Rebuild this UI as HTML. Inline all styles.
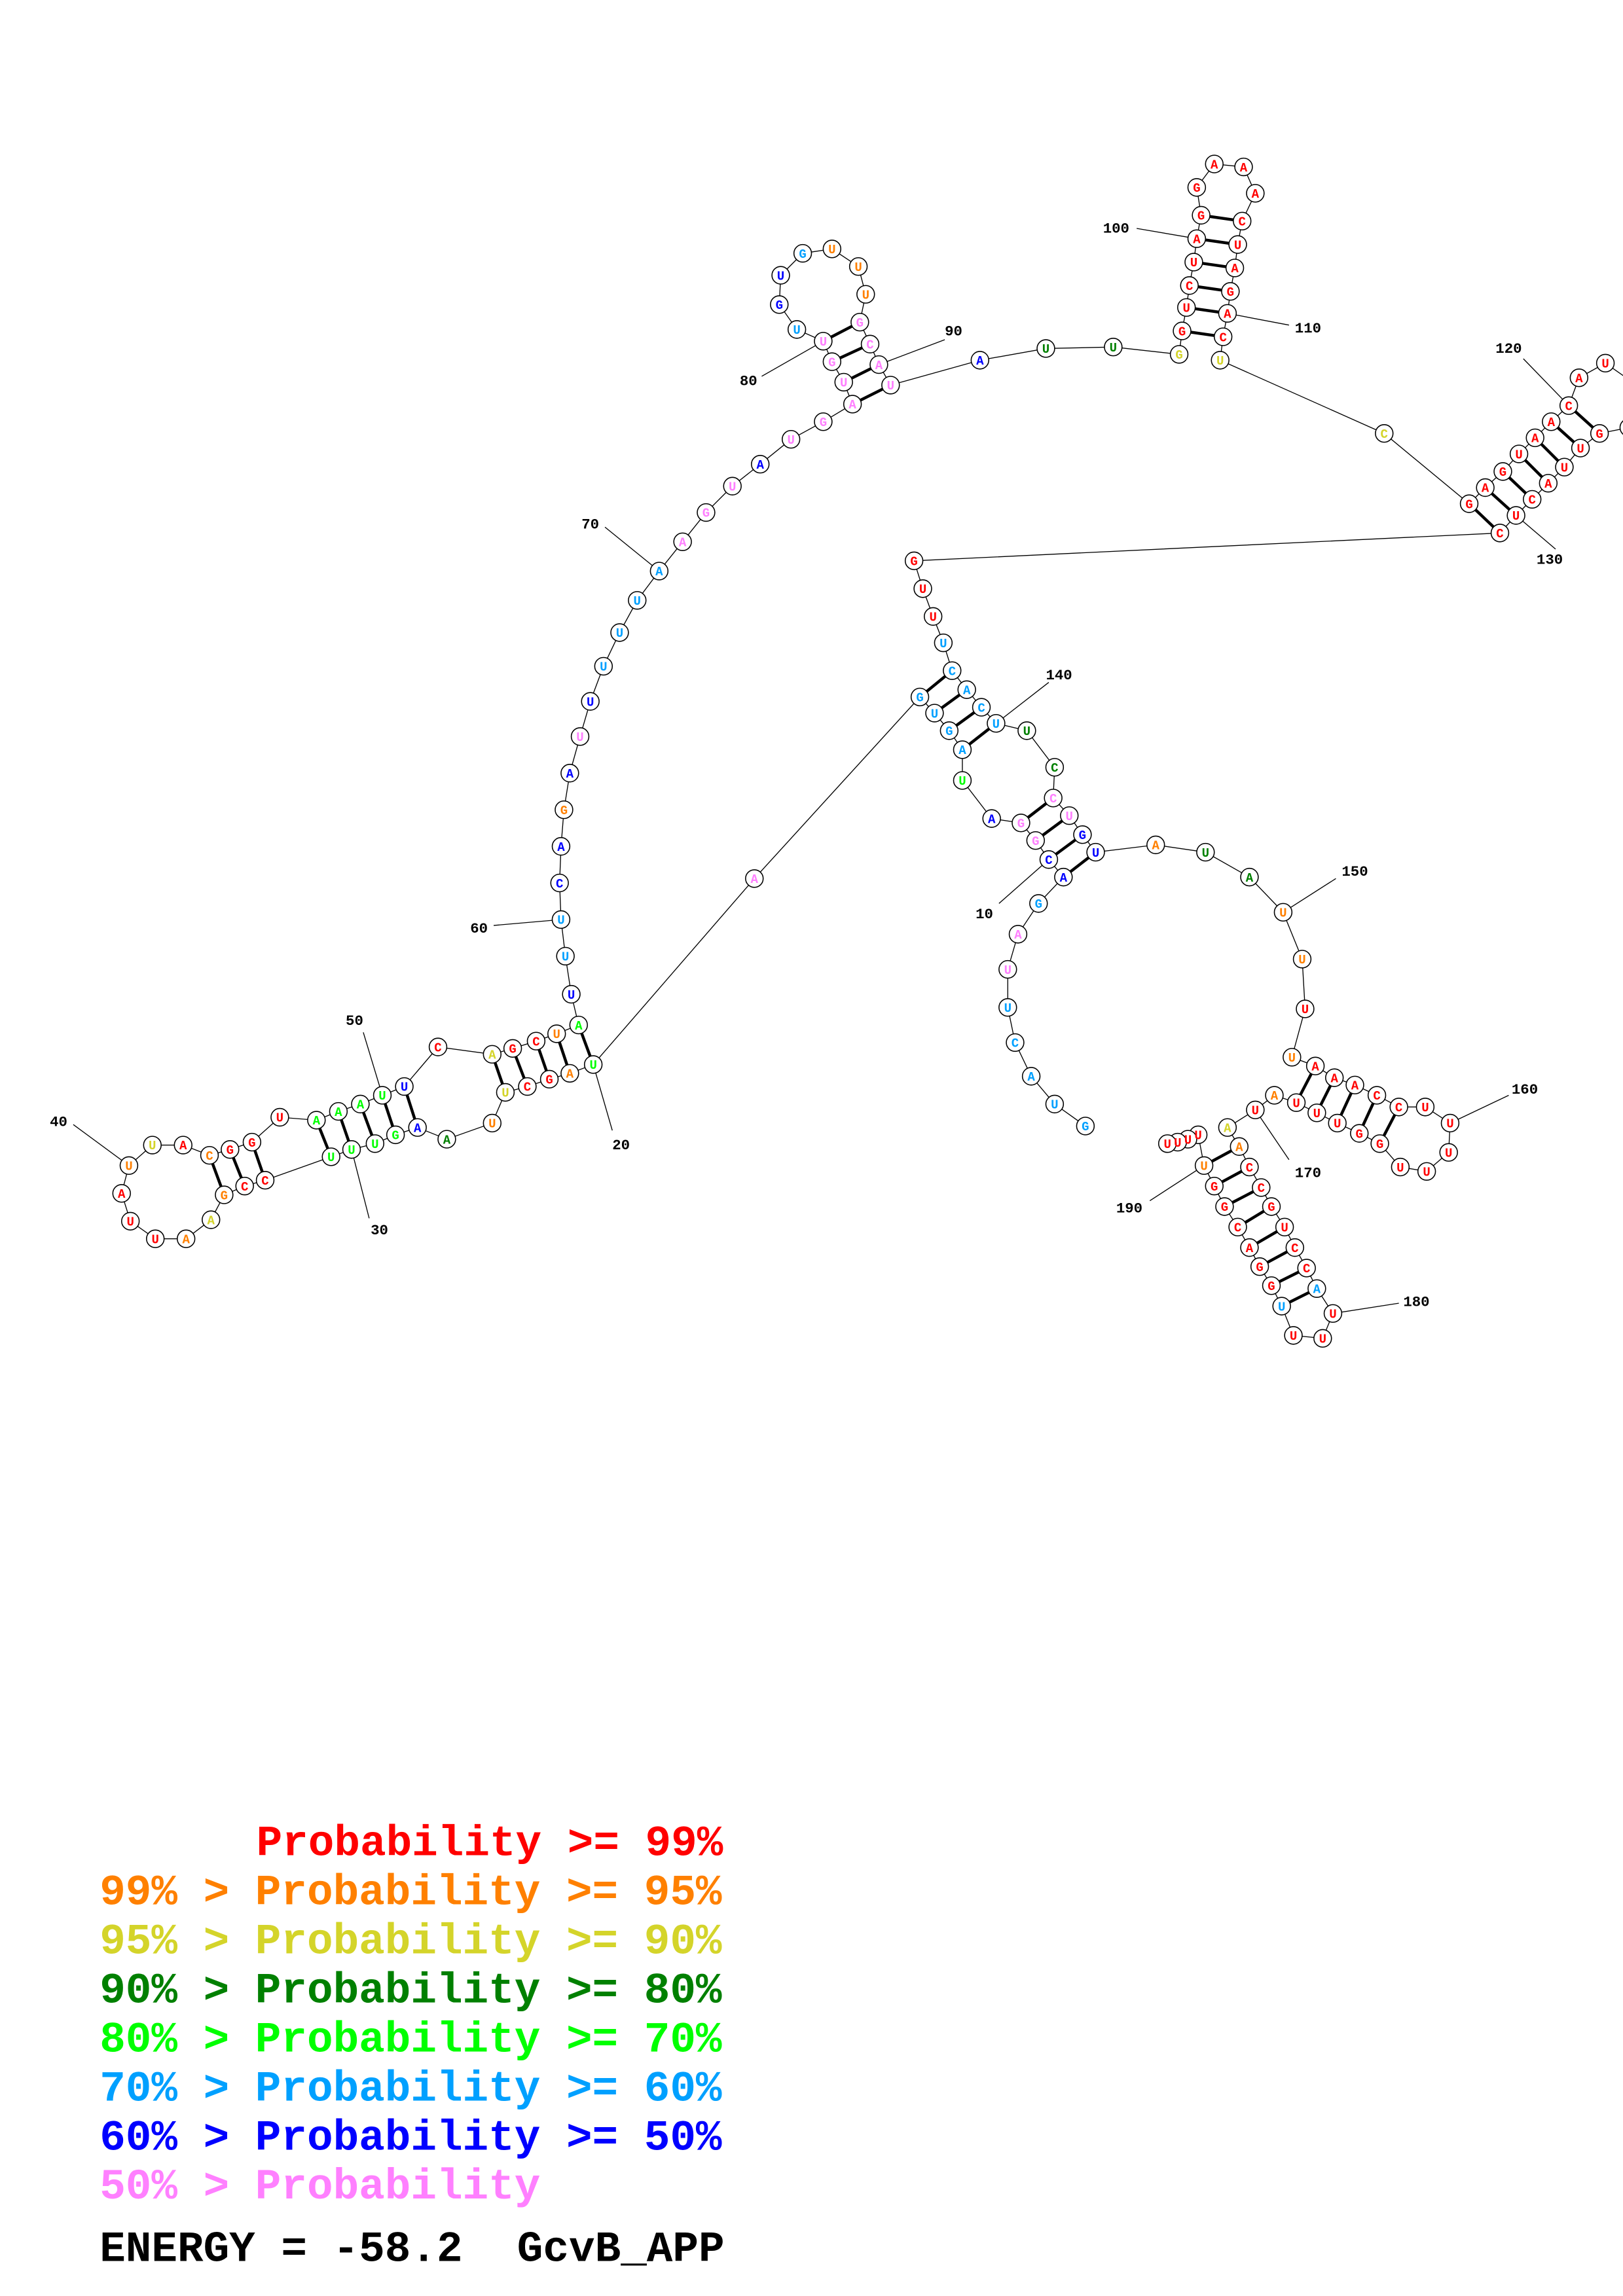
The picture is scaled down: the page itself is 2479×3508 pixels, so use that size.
<!DOCTYPE html>
<html><head><meta charset="utf-8"><style>
html,body{margin:0;padding:0;background:#fff}
svg{display:block}
.n text{font-family:"Liberation Mono",monospace;font-weight:bold;font-size:8.5px;text-anchor:middle}
.lab{font-family:"Liberation Mono",monospace;font-weight:bold;font-size:10px;text-anchor:middle;fill:#000}
.lg{font-family:"Liberation Mono",monospace;font-weight:bold;font-size:29.5px;white-space:pre}
.r{fill:#ff0000}.o{fill:#ff8000}.y{fill:#d4d42a}.d{fill:#008000}.g{fill:#00ff00}.l{fill:#00a0ff}.b{fill:#0000ff}.p{fill:#ff80ff}
</style></head><body>
<svg width="2479" height="3508" viewBox="0 0 1108 1568" xmlns="http://www.w3.org/2000/svg">
<rect width="1108" height="1568" fill="#fff"/>
<polyline fill="none" stroke="#000" stroke-width="0.6" points="741,769 720,754 704,735 693,712 688,688 688,662 695,638 709,617 726,599 716,587 707,574 697,562 677,559 657,533 657,512 648,499 638,487 628,476 515,600 405,727 389,733 375,737 360,742 345,746 336,767 305,778 285,770 270,775 256,781 240,785 226,790 181,806 167,810 153,816 144,833 127,846 106,846 89,834 83,815 88,796 104,782 125,782 143,789 157,785 172,780 191,763 216,765 231,759 246,754 261,748 276,742 299,715 336,720 350,716 366,711 380,706 395,700 390,679 386,653 383,628 382,603 383,578 385,553 389,528 396,503 403,479 412,455 423,432 435,410 450,390 466,370 482,350 500,332 519,317 540,300 562,288 582,276 576,261 568,247 562,233 544,225 532,208 533,188 548,173 568,170 586,182 591,201 587,220 594,235 600,249 608,263 669,246 714,238 760,237 805,242 807,226 810,210 812,195 815,179 817,163 820,147 817,128 829,112 849,114 857,132 848,151 845,167 843,183 840,199 838,214 835,230 833,246 945,296 1003,344 1014,333 1026,322 1037,310 1048,299 1059,288 1071,277 1078,258 1096,248 1116,262 1112,292 1092,296 1079,306 1068,319 1057,330 1046,341 1035,352 1024,364 624,383 630,402 637,421 644,439 650,458 660,471 670,483 680,494 701,499 720,524 719,545 730,557 739,570 748,582 789,577 823,582 853,599 876,623 889,655 891,689 882,722 898,728 911,736 925,741 940,748 955,756 973,756 990,767 989,787 974,800 956,797 942,781 928,774 913,767 899,760 885,753 870,748 857,758 838,770 846,783 853,797 861,811 868,824 877,838 884,852 892,866 899,880 910,897 903,914 883,912 875,892 868,878 860,865 853,852 845,838 836,824 829,810 822,796 818,775 811,778 804,780 797,781"/>
<g stroke="#000" stroke-width="2">
<line x1="405" y1="727" x2="395" y2="700"/><line x1="389" y1="733" x2="380" y2="706"/><line x1="375" y1="737" x2="366" y2="711"/><line x1="360" y1="742" x2="350" y2="716"/><line x1="345" y1="746" x2="336" y2="720"/>
<line x1="285" y1="770" x2="276" y2="742"/><line x1="270" y1="775" x2="261" y2="748"/><line x1="256" y1="781" x2="246" y2="754"/><line x1="240" y1="785" x2="231" y2="759"/><line x1="226" y1="790" x2="216" y2="765"/>
<line x1="181" y1="806" x2="172" y2="780"/><line x1="167" y1="810" x2="157" y2="785"/><line x1="153" y1="816" x2="143" y2="789"/>
<line x1="582" y1="276" x2="608" y2="263"/><line x1="576" y1="261" x2="600" y2="249"/><line x1="568" y1="247" x2="594" y2="235"/><line x1="562" y1="233" x2="587" y2="220"/>
<line x1="807" y1="226" x2="835" y2="230"/><line x1="810" y1="210" x2="838" y2="214"/><line x1="812" y1="195" x2="840" y2="199"/><line x1="815" y1="179" x2="843" y2="183"/><line x1="817" y1="163" x2="845" y2="167"/><line x1="820" y1="147" x2="848" y2="151"/>
<line x1="1003" y1="344" x2="1024" y2="364"/><line x1="1014" y1="333" x2="1035" y2="352"/><line x1="1026" y1="322" x2="1046" y2="341"/><line x1="1037" y1="310" x2="1057" y2="330"/><line x1="1048" y1="299" x2="1068" y2="319"/><line x1="1059" y1="288" x2="1079" y2="306"/><line x1="1071" y1="277" x2="1092" y2="296"/>
<line x1="650" y1="458" x2="628" y2="476"/><line x1="660" y1="471" x2="638" y2="487"/><line x1="670" y1="483" x2="648" y2="499"/><line x1="680" y1="494" x2="657" y2="512"/>
<line x1="697" y1="562" x2="719" y2="545"/><line x1="707" y1="574" x2="730" y2="557"/><line x1="716" y1="587" x2="739" y2="570"/><line x1="726" y1="599" x2="748" y2="582"/>
<line x1="898" y1="728" x2="885" y2="753"/><line x1="911" y1="736" x2="899" y2="760"/><line x1="925" y1="741" x2="913" y2="767"/><line x1="940" y1="748" x2="928" y2="774"/><line x1="955" y1="756" x2="942" y2="781"/>
<line x1="822" y1="796" x2="846" y2="783"/><line x1="829" y1="810" x2="853" y2="797"/><line x1="836" y1="824" x2="861" y2="811"/><line x1="845" y1="838" x2="868" y2="824"/><line x1="853" y1="852" x2="877" y2="838"/><line x1="860" y1="865" x2="884" y2="852"/><line x1="868" y1="878" x2="892" y2="866"/><line x1="875" y1="892" x2="899" y2="880"/>
</g>
<g stroke="#000" stroke-width="0.6">
<line x1="682" y1="617" x2="716" y2="587"/><line x1="418" y1="772" x2="405" y2="727"/><line x1="252" y1="832" x2="240" y2="785"/><line x1="50" y1="768" x2="88" y2="796"/><line x1="248" y1="705" x2="261" y2="748"/><line x1="337" y1="632" x2="383" y2="628"/><line x1="413" y1="360" x2="450" y2="390"/><line x1="520" y1="257" x2="562" y2="233"/><line x1="645" y1="232" x2="600" y2="249"/><line x1="776" y1="156" x2="817" y2="163"/><line x1="880" y1="222" x2="838" y2="214"/><line x1="1040" y1="245" x2="1071" y2="277"/><line x1="1062" y1="375" x2="1035" y2="352"/><line x1="716" y1="466" x2="680" y2="494"/><line x1="912" y1="600" x2="876" y2="623"/><line x1="1030" y1="748" x2="990" y2="767"/><line x1="880" y1="792" x2="857" y2="758"/><line x1="955" y1="890" x2="910" y2="897"/><line x1="785" y1="820" x2="822" y2="796"/>
</g>
<g class="lab">
<text x="672" y="627">10</text><text x="424" y="785">20</text><text x="259" y="843">30</text><text x="40" y="769">40</text><text x="242" y="700">50</text><text x="327" y="637">60</text><text x="403" y="361">70</text><text x="511" y="263">80</text><text x="651" y="229">90</text><text x="762" y="159">100</text><text x="893" y="227">110</text><text x="1030" y="241">120</text><text x="1058" y="385">130</text><text x="723" y="464">140</text><text x="925" y="598">150</text><text x="1041" y="747">160</text><text x="893" y="804">170</text><text x="967" y="892">180</text><text x="771" y="828">190</text>
</g>
<g class="n" stroke-width="0.7">
<g fill="#fff" stroke="#000">
<circle cx="741" cy="769" r="6"/><circle cx="720" cy="754" r="6"/><circle cx="704" cy="735" r="6"/><circle cx="693" cy="712" r="6"/><circle cx="688" cy="688" r="6"/><circle cx="688" cy="662" r="6"/><circle cx="695" cy="638" r="6"/><circle cx="709" cy="617" r="6"/><circle cx="726" cy="599" r="6"/><circle cx="716" cy="587" r="6"/><circle cx="707" cy="574" r="6"/><circle cx="697" cy="562" r="6"/><circle cx="677" cy="559" r="6"/><circle cx="657" cy="533" r="6"/><circle cx="657" cy="512" r="6"/><circle cx="648" cy="499" r="6"/><circle cx="638" cy="487" r="6"/><circle cx="628" cy="476" r="6"/><circle cx="515" cy="600" r="6"/><circle cx="405" cy="727" r="6"/><circle cx="389" cy="733" r="6"/><circle cx="375" cy="737" r="6"/><circle cx="360" cy="742" r="6"/><circle cx="345" cy="746" r="6"/><circle cx="336" cy="767" r="6"/><circle cx="305" cy="778" r="6"/><circle cx="285" cy="770" r="6"/><circle cx="270" cy="775" r="6"/><circle cx="256" cy="781" r="6"/><circle cx="240" cy="785" r="6"/><circle cx="226" cy="790" r="6"/><circle cx="181" cy="806" r="6"/><circle cx="167" cy="810" r="6"/><circle cx="153" cy="816" r="6"/><circle cx="144" cy="833" r="6"/><circle cx="127" cy="846" r="6"/><circle cx="106" cy="846" r="6"/><circle cx="89" cy="834" r="6"/><circle cx="83" cy="815" r="6"/><circle cx="88" cy="796" r="6"/><circle cx="104" cy="782" r="6"/><circle cx="125" cy="782" r="6"/><circle cx="143" cy="789" r="6"/><circle cx="157" cy="785" r="6"/><circle cx="172" cy="780" r="6"/><circle cx="191" cy="763" r="6"/><circle cx="216" cy="765" r="6"/><circle cx="231" cy="759" r="6"/><circle cx="246" cy="754" r="6"/><circle cx="261" cy="748" r="6"/><circle cx="276" cy="742" r="6"/><circle cx="299" cy="715" r="6"/><circle cx="336" cy="720" r="6"/><circle cx="350" cy="716" r="6"/><circle cx="366" cy="711" r="6"/><circle cx="380" cy="706" r="6"/><circle cx="395" cy="700" r="6"/><circle cx="390" cy="679" r="6"/><circle cx="386" cy="653" r="6"/><circle cx="383" cy="628" r="6"/><circle cx="382" cy="603" r="6"/><circle cx="383" cy="578" r="6"/><circle cx="385" cy="553" r="6"/><circle cx="389" cy="528" r="6"/><circle cx="396" cy="503" r="6"/><circle cx="403" cy="479" r="6"/><circle cx="412" cy="455" r="6"/><circle cx="423" cy="432" r="6"/><circle cx="435" cy="410" r="6"/><circle cx="450" cy="390" r="6"/><circle cx="466" cy="370" r="6"/><circle cx="482" cy="350" r="6"/><circle cx="500" cy="332" r="6"/><circle cx="519" cy="317" r="6"/><circle cx="540" cy="300" r="6"/><circle cx="562" cy="288" r="6"/><circle cx="582" cy="276" r="6"/><circle cx="576" cy="261" r="6"/><circle cx="568" cy="247" r="6"/><circle cx="562" cy="233" r="6"/><circle cx="544" cy="225" r="6"/><circle cx="532" cy="208" r="6"/><circle cx="533" cy="188" r="6"/><circle cx="548" cy="173" r="6"/><circle cx="568" cy="170" r="6"/><circle cx="586" cy="182" r="6"/><circle cx="591" cy="201" r="6"/><circle cx="587" cy="220" r="6"/><circle cx="594" cy="235" r="6"/><circle cx="600" cy="249" r="6"/><circle cx="608" cy="263" r="6"/><circle cx="669" cy="246" r="6"/><circle cx="714" cy="238" r="6"/><circle cx="760" cy="237" r="6"/><circle cx="805" cy="242" r="6"/><circle cx="807" cy="226" r="6"/><circle cx="810" cy="210" r="6"/><circle cx="812" cy="195" r="6"/><circle cx="815" cy="179" r="6"/><circle cx="817" cy="163" r="6"/><circle cx="820" cy="147" r="6"/><circle cx="817" cy="128" r="6"/><circle cx="829" cy="112" r="6"/><circle cx="849" cy="114" r="6"/><circle cx="857" cy="132" r="6"/><circle cx="848" cy="151" r="6"/><circle cx="845" cy="167" r="6"/><circle cx="843" cy="183" r="6"/><circle cx="840" cy="199" r="6"/><circle cx="838" cy="214" r="6"/><circle cx="835" cy="230" r="6"/><circle cx="833" cy="246" r="6"/><circle cx="945" cy="296" r="6"/><circle cx="1003" cy="344" r="6"/><circle cx="1014" cy="333" r="6"/><circle cx="1026" cy="322" r="6"/><circle cx="1037" cy="310" r="6"/><circle cx="1048" cy="299" r="6"/><circle cx="1059" cy="288" r="6"/><circle cx="1071" cy="277" r="6"/><circle cx="1078" cy="258" r="6"/><circle cx="1096" cy="248" r="6"/><circle cx="1116" cy="262" r="6"/><circle cx="1112" cy="292" r="6"/><circle cx="1092" cy="296" r="6"/><circle cx="1079" cy="306" r="6"/><circle cx="1068" cy="319" r="6"/><circle cx="1057" cy="330" r="6"/><circle cx="1046" cy="341" r="6"/><circle cx="1035" cy="352" r="6"/><circle cx="1024" cy="364" r="6"/><circle cx="624" cy="383" r="6"/><circle cx="630" cy="402" r="6"/><circle cx="637" cy="421" r="6"/><circle cx="644" cy="439" r="6"/><circle cx="650" cy="458" r="6"/><circle cx="660" cy="471" r="6"/><circle cx="670" cy="483" r="6"/><circle cx="680" cy="494" r="6"/><circle cx="701" cy="499" r="6"/><circle cx="720" cy="524" r="6"/><circle cx="719" cy="545" r="6"/><circle cx="730" cy="557" r="6"/><circle cx="739" cy="570" r="6"/><circle cx="748" cy="582" r="6"/><circle cx="789" cy="577" r="6"/><circle cx="823" cy="582" r="6"/><circle cx="853" cy="599" r="6"/><circle cx="876" cy="623" r="6"/><circle cx="889" cy="655" r="6"/><circle cx="891" cy="689" r="6"/><circle cx="882" cy="722" r="6"/><circle cx="898" cy="728" r="6"/><circle cx="911" cy="736" r="6"/><circle cx="925" cy="741" r="6"/><circle cx="940" cy="748" r="6"/><circle cx="955" cy="756" r="6"/><circle cx="973" cy="756" r="6"/><circle cx="990" cy="767" r="6"/><circle cx="989" cy="787" r="6"/><circle cx="974" cy="800" r="6"/><circle cx="956" cy="797" r="6"/><circle cx="942" cy="781" r="6"/><circle cx="928" cy="774" r="6"/><circle cx="913" cy="767" r="6"/><circle cx="899" cy="760" r="6"/><circle cx="885" cy="753" r="6"/><circle cx="870" cy="748" r="6"/><circle cx="857" cy="758" r="6"/><circle cx="838" cy="770" r="6"/><circle cx="846" cy="783" r="6"/><circle cx="853" cy="797" r="6"/><circle cx="861" cy="811" r="6"/><circle cx="868" cy="824" r="6"/><circle cx="877" cy="838" r="6"/><circle cx="884" cy="852" r="6"/><circle cx="892" cy="866" r="6"/><circle cx="899" cy="880" r="6"/><circle cx="910" cy="897" r="6"/><circle cx="903" cy="914" r="6"/><circle cx="883" cy="912" r="6"/><circle cx="875" cy="892" r="6"/><circle cx="868" cy="878" r="6"/><circle cx="860" cy="865" r="6"/><circle cx="853" cy="852" r="6"/><circle cx="845" cy="838" r="6"/><circle cx="836" cy="824" r="6"/><circle cx="829" cy="810" r="6"/><circle cx="822" cy="796" r="6"/><circle cx="818" cy="775" r="6"/><circle cx="811" cy="778" r="6"/><circle cx="804" cy="780" r="6"/><circle cx="797" cy="781" r="6"/>
</g>
<text x="741" y="772" class="l">G</text><text x="720" y="757" class="l">U</text><text x="704" y="738" class="l">A</text><text x="693" y="715" class="l">C</text><text x="688" y="691" class="l">U</text><text x="688" y="665" class="p">U</text><text x="695" y="641" class="p">A</text><text x="709" y="620" class="l">G</text><text x="726" y="602" class="b">A</text><text x="716" y="590" class="b">C</text><text x="707" y="577" class="p">G</text><text x="697" y="565" class="p">G</text><text x="677" y="562" class="b">A</text><text x="657" y="536" class="g">U</text><text x="657" y="515" class="l">A</text><text x="648" y="502" class="l">G</text><text x="638" y="490" class="l">U</text><text x="628" y="479" class="l">G</text><text x="515" y="603" class="p">A</text><text x="405" y="730" class="g">U</text><text x="389" y="736" class="o">A</text><text x="375" y="740" class="r">G</text><text x="360" y="745" class="r">C</text><text x="345" y="749" class="y">U</text><text x="336" y="770" class="o">U</text><text x="305" y="781" class="d">A</text><text x="285" y="773" class="b">A</text><text x="270" y="778" class="g">G</text><text x="256" y="784" class="g">U</text><text x="240" y="788" class="g">U</text><text x="226" y="793" class="g">U</text><text x="181" y="809" class="r">C</text><text x="167" y="813" class="r">C</text><text x="153" y="819" class="o">G</text><text x="144" y="836" class="y">A</text><text x="127" y="849" class="o">A</text><text x="106" y="849" class="r">U</text><text x="89" y="837" class="r">U</text><text x="83" y="818" class="r">A</text><text x="88" y="799" class="o">U</text><text x="104" y="785" class="y">U</text><text x="125" y="785" class="r">A</text><text x="143" y="792" class="o">C</text><text x="157" y="788" class="r">G</text><text x="172" y="783" class="r">G</text><text x="191" y="766" class="r">U</text><text x="216" y="768" class="g">A</text><text x="231" y="762" class="g">A</text><text x="246" y="757" class="g">A</text><text x="261" y="751" class="g">U</text><text x="276" y="745" class="b">U</text><text x="299" y="718" class="r">C</text><text x="336" y="723" class="y">A</text><text x="350" y="719" class="r">G</text><text x="366" y="714" class="r">C</text><text x="380" y="709" class="o">U</text><text x="395" y="703" class="g">A</text><text x="390" y="682" class="b">U</text><text x="386" y="656" class="l">U</text><text x="383" y="631" class="l">U</text><text x="382" y="606" class="b">C</text><text x="383" y="581" class="b">A</text><text x="385" y="556" class="o">G</text><text x="389" y="531" class="b">A</text><text x="396" y="506" class="p">U</text><text x="403" y="482" class="b">U</text><text x="412" y="458" class="l">U</text><text x="423" y="435" class="l">U</text><text x="435" y="413" class="l">U</text><text x="450" y="393" class="l">A</text><text x="466" y="373" class="p">A</text><text x="482" y="353" class="p">G</text><text x="500" y="335" class="p">U</text><text x="519" y="320" class="b">A</text><text x="540" y="303" class="p">U</text><text x="562" y="291" class="p">G</text><text x="582" y="279" class="p">A</text><text x="576" y="264" class="p">U</text><text x="568" y="250" class="p">G</text><text x="562" y="236" class="p">U</text><text x="544" y="228" class="l">U</text><text x="532" y="211" class="b">G</text><text x="533" y="191" class="b">U</text><text x="548" y="176" class="l">G</text><text x="568" y="173" class="o">U</text><text x="586" y="185" class="o">U</text><text x="591" y="204" class="o">U</text><text x="587" y="223" class="p">G</text><text x="594" y="238" class="p">C</text><text x="600" y="252" class="p">A</text><text x="608" y="266" class="p">U</text><text x="669" y="249" class="b">A</text><text x="714" y="241" class="d">U</text><text x="760" y="240" class="d">U</text><text x="805" y="245" class="y">G</text><text x="807" y="229" class="r">G</text><text x="810" y="213" class="r">U</text><text x="812" y="198" class="r">C</text><text x="815" y="182" class="r">U</text><text x="817" y="166" class="r">A</text><text x="820" y="150" class="r">G</text><text x="817" y="131" class="r">G</text><text x="829" y="115" class="r">A</text><text x="849" y="117" class="r">A</text><text x="857" y="135" class="r">A</text><text x="848" y="154" class="r">C</text><text x="845" y="170" class="r">U</text><text x="843" y="186" class="r">A</text><text x="840" y="202" class="r">G</text><text x="838" y="217" class="r">A</text><text x="835" y="233" class="r">C</text><text x="833" y="249" class="y">U</text><text x="945" y="299" class="y">C</text><text x="1003" y="347" class="r">G</text><text x="1014" y="336" class="r">A</text><text x="1026" y="325" class="r">G</text><text x="1037" y="313" class="r">U</text><text x="1048" y="302" class="r">A</text><text x="1059" y="291" class="r">A</text><text x="1071" y="280" class="r">C</text><text x="1078" y="261" class="r">A</text><text x="1096" y="251" class="r">U</text><text x="1116" y="265" class="r">U</text><text x="1112" y="295" class="r">A</text><text x="1092" y="299" class="r">G</text><text x="1079" y="309" class="r">U</text><text x="1068" y="322" class="r">U</text><text x="1057" y="333" class="r">A</text><text x="1046" y="344" class="r">C</text><text x="1035" y="355" class="r">U</text><text x="1024" y="367" class="r">C</text><text x="624" y="386" class="r">G</text><text x="630" y="405" class="r">U</text><text x="637" y="424" class="r">U</text><text x="644" y="442" class="l">U</text><text x="650" y="461" class="l">C</text><text x="660" y="474" class="l">A</text><text x="670" y="486" class="l">C</text><text x="680" y="497" class="l">U</text><text x="701" y="502" class="d">U</text><text x="720" y="527" class="d">C</text><text x="719" y="548" class="p">C</text><text x="730" y="560" class="p">U</text><text x="739" y="573" class="b">G</text><text x="748" y="585" class="b">U</text><text x="789" y="580" class="o">A</text><text x="823" y="585" class="d">U</text><text x="853" y="602" class="d">A</text><text x="876" y="626" class="o">U</text><text x="889" y="658" class="o">U</text><text x="891" y="692" class="r">U</text><text x="882" y="725" class="o">U</text><text x="898" y="731" class="r">A</text><text x="911" y="739" class="r">A</text><text x="925" y="744" class="r">A</text><text x="940" y="751" class="r">C</text><text x="955" y="759" class="r">C</text><text x="973" y="759" class="r">U</text><text x="990" y="770" class="r">U</text><text x="989" y="790" class="r">U</text><text x="974" y="803" class="r">U</text><text x="956" y="800" class="r">U</text><text x="942" y="784" class="r">G</text><text x="928" y="777" class="r">G</text><text x="913" y="770" class="r">U</text><text x="899" y="763" class="r">U</text><text x="885" y="756" class="r">U</text><text x="870" y="751" class="o">A</text><text x="857" y="761" class="r">U</text><text x="838" y="773" class="y">A</text><text x="846" y="786" class="o">A</text><text x="853" y="800" class="r">C</text><text x="861" y="814" class="r">C</text><text x="868" y="827" class="r">G</text><text x="877" y="841" class="r">U</text><text x="884" y="855" class="r">C</text><text x="892" y="869" class="r">C</text><text x="899" y="883" class="l">A</text><text x="910" y="900" class="r">U</text><text x="903" y="917" class="r">U</text><text x="883" y="915" class="r">U</text><text x="875" y="895" class="l">U</text><text x="868" y="881" class="r">G</text><text x="860" y="868" class="r">G</text><text x="853" y="855" class="r">A</text><text x="845" y="841" class="r">C</text><text x="836" y="827" class="r">G</text><text x="829" y="813" class="r">G</text><text x="822" y="799" class="o">U</text><text x="818" y="778" class="r">U</text><text x="811" y="781" class="r">U</text><text x="804" y="783" class="r">U</text><text x="797" y="784" class="r">U</text>
</g>
<g class="lg">
<text x="175" y="1267" class="r">Probability &gt;= 99%</text>
<text x="68" y="1300.5" class="o">99% &gt; Probability &gt;= 95%</text>
<text x="68" y="1334" class="y">95% &gt; Probability &gt;= 90%</text>
<text x="68" y="1367.5" class="d">90% &gt; Probability &gt;= 80%</text>
<text x="68" y="1401" class="g">80% &gt; Probability &gt;= 70%</text>
<text x="68" y="1434.5" class="l">70% &gt; Probability &gt;= 60%</text>
<text x="68" y="1468" class="b">60% &gt; Probability &gt;= 50%</text>
<text x="68" y="1501.5" class="p">50% &gt; Probability</text>
<text x="68" y="1544" fill="#000">ENERGY = -58.2</text>
<text x="353" y="1544" fill="#000">GcvB_APP</text>
</g>
</svg>
</body></html>
